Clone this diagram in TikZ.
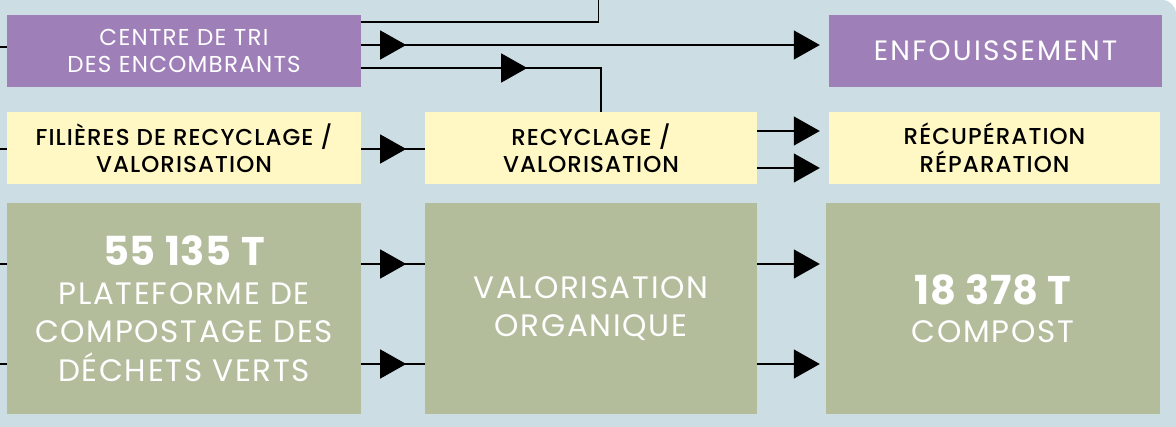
\documentclass[tikz,border=0pt]{standalone}
\usepackage{fontspec}
\setmainfont{Poppins}[LetterSpace=5.5]
\newfontfamily\medfont{Poppins Medium}[LetterSpace=4.5]
\newfontfamily\numfont{Poppins}[LetterSpace=2]
\usetikzlibrary{arrows.meta,decorations.markings,calc}
\definecolor{bgc}{RGB}{205,221,228}
\definecolor{purp}{RGB}{158,127,184}
\definecolor{yel}{RGB}{255,248,196}
\definecolor{grn}{RGB}{179,189,156}
\tikzset{
  box/.style={rectangle, inner sep=0pt, align=center, minimum height=72pt},
  purpbox/.style={box, fill=purp, text=white},
  yelbox/.style={box, fill=yel, text=black},
  grnbox/.style={box, fill=grn, text=white, minimum height=211pt},
  conn/.style={line width=1.2pt, draw=black},
  tipend/.style={-{Triangle[length=26pt,width=29pt]}},
  midarrow/.style={decoration={markings, mark=at position #1 with {\arrow{Triangle[length=26pt,width=29pt]}}}, postaction={decorate}},
  smallfont/.style={font=\fontsize{23}{27.5}\selectfont},
  medsmall/.style={font=\medfont\fontsize{23}{27.5}\selectfont},
  bigfont/.style={font=\fontsize{31}{38.5}\selectfont},
}
\newcommand{\bignum}[1]{{\numfont\bfseries\fontsize{40}{44}\selectfont #1}}
\begin{document}
\begin{tikzpicture}[x=1pt,y=-1pt]
\useasboundingbox (0,0) rectangle (1176,427);
\clip (0,0) rectangle (1176,427);
\fill[white] (0,0) rectangle (1176,427);
\fill[bgc, rounded corners=14pt] (-40,0) rectangle (1176,470);

\node[purpbox, minimum width=354pt, smallfont] (tri) at (184,51) {CENTRE DE TRI\\DES ENCOMBRANTS};
\node[purpbox, minimum width=333pt, font=\fontsize{28}{32}\selectfont\addfontfeatures{LetterSpace=8}] (enf) at (995.5,51) {ENFOUISSEMENT};
\node[yelbox, minimum width=354pt, medsmall] (fil) at (184,148) {FILIÈRES DE RECYCLAGE /\\VALORISATION};
\node[yelbox, minimum width=332pt, medsmall] (rec) at (591,148) {RECYCLAGE /\\VALORISATION};
\node[yelbox, minimum width=331pt, medsmall] (recup) at (994.5,148) {RÉCUPÉRATION\\RÉPARATION};
\node[grnbox, minimum width=354pt, bigfont] (plat) at (184,308.5) {\bignum{55 135 T}\\PLATEFORME DE\\COMPOSTAGE DES\\DÉCHETS VERTS};
\node[grnbox, minimum width=332pt, bigfont] (valo) at (591,308.5) {VALORISATION\\ORGANIQUE};
\node[grnbox, minimum width=334pt, bigfont] (comp) at (993,308.5) {\bignum{18 378 T}\\COMPOST};

\coordinate (yA) at (0,22);
\coordinate (yB) at (0,45);
\coordinate (yC) at (0,68);
\coordinate (yD) at (0,149);
\coordinate (yE) at (0,131);
\coordinate (yF) at (0,168);
\coordinate (yG) at (0,264);
\coordinate (yH) at (0,364);
\coordinate (inA) at (-2,47);
\coordinate (inD) at (-2,149);
\coordinate (inG) at (-2,264);
\coordinate (inH) at (-2,364);
\coordinate (topsrc) at (598.5,-2);

\draw[conn] (topsrc) |- (tri.east |- yA);
\draw[conn] (inA) -- (inA -| tri.west);
\draw[conn, midarrow=45pt, tipend, shorten >=9pt] (tri.east |- yB) -- (enf.west |- yB);
\draw[conn, midarrow=166pt] (tri.east |- yC) -| ($(rec.north)+(10,0)$);

\draw[conn] (inD) -- (inD -| fil.west);
\draw[conn, midarrow=45pt] (fil.east |- yD) -- (rec.west |- yD);
\draw[conn, tipend, shorten >=9pt] (rec.east |- yE) -- (recup.west |- yE);
\draw[conn, tipend, shorten >=9pt] (rec.east |- yF) -- (recup.west |- yF);

\draw[conn] (inG) -- (inG -| plat.west);
\draw[conn] (inH) -- (inH -| plat.west);
\draw[conn, midarrow=45pt] (plat.east |- yG) -- (valo.west |- yG);
\draw[conn, midarrow=45pt] (plat.east |- yH) -- (valo.west |- yH);
\draw[conn, tipend, shorten >=6pt] (valo.east |- yG) -- (comp.west |- yG);
\draw[conn, tipend, shorten >=6pt] (valo.east |- yH) -- (comp.west |- yH);
\end{tikzpicture}
\end{document}
